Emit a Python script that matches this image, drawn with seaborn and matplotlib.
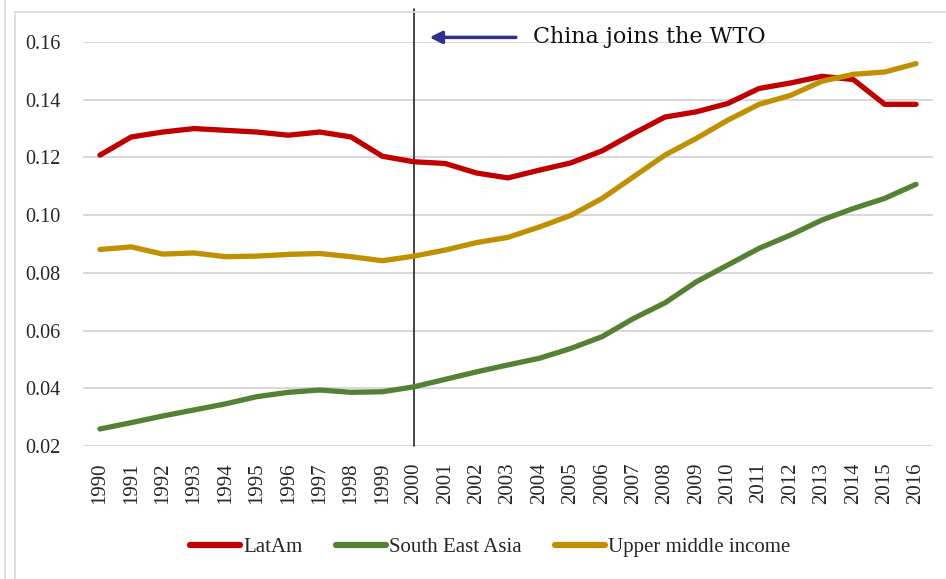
import pandas as pd
import matplotlib.pyplot as plt
import seaborn as sns
import numpy as np
from matplotlib.lines import Line2D

# Data
years = list(range(1990, 2017))

latam = [0.1208, 0.1271, 0.1288, 0.1300, 0.1294, 0.1288, 0.1277, 0.1288, 0.1271,
         0.1204, 0.1185, 0.1179, 0.1146, 0.1129, 0.1156, 0.1181, 0.1223, 0.1283,
         0.1340, 0.1358, 0.1387, 0.1439, 0.1458, 0.1481, 0.1470, 0.1384, 0.1384]

sea = [0.0259, 0.0281, 0.0304, 0.0325, 0.0346, 0.0371, 0.0386, 0.0394, 0.0386,
       0.0388, 0.0405, 0.0431, 0.0457, 0.0481, 0.0504, 0.0538, 0.0579, 0.0642,
       0.0696, 0.0769, 0.0827, 0.0885, 0.0931, 0.0983, 0.1023, 0.1058, 0.1107]

umi = [0.0881, 0.0890, 0.0865, 0.0869, 0.0856, 0.0858, 0.0864, 0.0867, 0.0856,
       0.0842, 0.0858, 0.0879, 0.0905, 0.0923, 0.0959, 0.0999, 0.1058, 0.1133,
       0.1208, 0.1266, 0.1329, 0.1384, 0.1415, 0.1464, 0.1488, 0.1496, 0.1525]

series_names = ["LatAm", "South East Asia", "Upper middle income"]
colors = ["#C00000", "#548235", "#BF9000"]
yticks = [0.02, 0.04, 0.06, 0.08, 0.10, 0.12, 0.14, 0.16]
wto_year = 2000
annotation = "China joins the WTO"

df = pd.DataFrame({"year": years, series_names[0]: latam,
                   series_names[1]: sea, series_names[2]: umi})
long = df.melt(id_vars="year", var_name="series", value_name="value")

sns.set_style("white")
plt.rcParams['font.family'] = ['Liberation Serif', 'DejaVu Serif']

fig = plt.figure(figsize=(9.46, 5.79), dpi=100)
ax = fig.add_axes([83/946, 1 - 446/579, (933-83)/946, (446-42)/579])

sns.lineplot(data=long, x="year", y="value", hue="series", hue_order=series_names,
             palette=colors, linewidth=3.8, ax=ax, legend=False,
             solid_capstyle="round")

ax.set_xlim(1989.46, 2016.54)
ax.set_ylim(0.02, 0.16)
ax.set_xticks(years)
ax.set_xticklabels([str(y) for y in years], rotation=90, fontsize=15, color="#262626")
ax.set_yticks(yticks)
ax.set_yticklabels([f"{v:.2f}" for v in yticks], fontsize=14.5, color="#262626")
ax.tick_params(axis="y", length=0, pad=16)
ax.tick_params(axis="x", length=0, pad=12)
ax.set_xlabel("")
ax.set_ylabel("")
ax.grid(axis="y", color="#d9d9d9", linewidth=1.5)
ax.set_axisbelow(True)
for s in ax.spines.values():
    s.set_visible(False)

# vertical marker for WTO accession
ax.axvline(wto_year, ymin=0, ymax=(446-9)/(446-42), color="#262626",
           linewidth=1.2, clip_on=False, zorder=1)

# arrow and annotation
ax.annotate("", xy=(2000.5, 0.1616), xytext=(2003.25, 0.1616),
            arrowprops=dict(arrowstyle="-|>", color="#2E3192", lw=2.5,
                            mutation_scale=18, shrinkA=0, shrinkB=0),
            annotation_clip=False)
ax.text(2003.8, 0.1616, annotation, fontsize=16, va="center", ha="left",
        family=["DejaVu Serif"], color="#111111", clip_on=False)

# legend
handles = [Line2D([0], [0], color=c, linewidth=4.5, solid_capstyle="round")
           for c in colors]
fig.legend(handles, series_names, loc="center", bbox_to_anchor=(0.518, 1 - 547/579),
           ncol=3, frameon=False, fontsize=15, handlelength=2.4,
           handletextpad=0.15, columnspacing=1.6)

# chart border lines
fig.add_artist(Line2D([15/946, 15/946], [0, 1 - 12/579], color="#d9d9d9", lw=1.2))
fig.add_artist(Line2D([15/946, 1], [1 - 12/579, 1 - 12/579], color="#d9d9d9", lw=1.2))
fig.add_artist(Line2D([5/946, 5/946], [0, 1], color="#d9d9d9", lw=1.2))

fig.savefig("out.png", dpi=100)
